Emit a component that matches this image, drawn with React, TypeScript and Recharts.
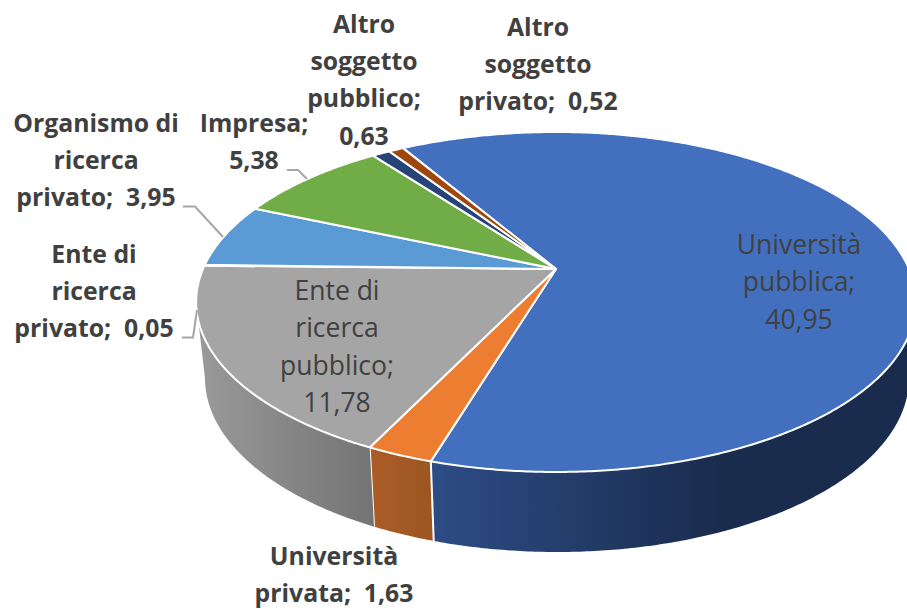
import React from "react";
import { PieChart, Pie } from "recharts";

const categories = ["Università pubblica", "Università privata", "Ente di ricerca pubblico", "Ente di ricerca privato", "Organismo di ricerca privato", "Impresa", "Altro soggetto pubblico", "Altro soggetto privato"];
const values = [40.95, 1.63, 11.78, 0.05, 3.95, 5.38, 0.63, 0.52];
const colors = ["#4270BF", "#ED7D31", "#A5A5A5", "#5B9BD5", "#5B9BD5", "#70AD47", "#264478", "#9E480E"];
const labelLines: string[][] = [
  ["Università", "pubblica;", "40,95"],
  ["Università", "privata;  1,63"],
  ["Ente di", "ricerca", "pubblico;", "11,78"],
  ["Ente di", "ricerca", "privato;  0,05"],
  ["Organismo di", "ricerca", "privato;  3,95"],
  ["Impresa;", "5,38"],
  ["Altro", "soggetto", "pubblico;", "0,63"],
  ["Altro", "soggetto", "privato;  0,52"],
];

const data = categories.map((name, i) => ({ name, value: values[i], fill: colors[i] }));

const labelPos = [
  { x: 799, y: 247, bold: false },
  { x: 334, y: 558, bold: true },
  { x: 337, y: 293, bold: false },
  { x: 94, y: 256, bold: true },
  { x: 96, y: 125, bold: true },
  { x: 254, y: 125, bold: true },
  { x: 364, y: 26, bold: true },
  { x: 538, y: 29, bold: true },
];
const leaders: Record<number, string> = {
  3: "182,337.5 193,337.5 197,310",
  4: "183,206.5 195,206.5 223,237",
  5: "287,170 298,170 307,179",
};
const sideGrad: Record<number, [string, string, number, number]> = {
  0: ["#2D4C85", "#1A2C4E", 432, 720],
  1: ["#AB5C26", "#9C5621", 372, 434],
  2: ["#999999", "#747474", 200, 372],
};

const AX = 556, AY = 269, A = 353, B = 163.6, P = 0.194;
const TOP = { cx: 557, cy: 302, rx: 360, ry: 170 };
const BOT = { cx: 557, cy: 378, rx: 352, ry: 174 };

function project(deg: number) {
  const r = (deg * Math.PI) / 180;
  const X = Math.cos(r), Y = Math.sin(r);
  const d = 1 + P * Y;
  return { x: AX + (A * X) / d, y: AY - (B * Y) / d };
}

function SliceShape(props: any) {
  const { startAngle, endAngle, fill, name } = props;
  const idx = categories.indexOf(name);
  const n = Math.max(2, Math.ceil(Math.abs(endAngle - startAngle) * 2));
  const pts: { x: number; y: number }[] = [];
  for (let i = 0; i <= n; i++) pts.push(project(startAngle + ((endAngle - startAngle) * i) / n));
  const top = `M${AX},${AY} ` + pts.map((p) => `L${p.x.toFixed(2)},${p.y.toFixed(2)}`).join(" ") + " Z";

  const front = pts
    .map((p) => {
      const t = Math.atan2((p.y - TOP.cy) / TOP.ry, (p.x - TOP.cx) / TOP.rx);
      return { p, t };
    })
    .filter((o) => Math.sin(o.t) >= 0);
  let side = null;
  if (front.length > 1) {
    const bottom = front.map((o) => ({ x: BOT.cx + BOT.rx * Math.cos(o.t), y: BOT.cy + BOT.ry * Math.sin(o.t) }));
    const d =
      "M" + front.map((o) => `${o.p.x.toFixed(2)},${o.p.y.toFixed(2)}`).join(" L") +
      " L" + bottom.reverse().map((p) => `${p.x.toFixed(2)},${p.y.toFixed(2)}`).join(" L") + " Z";
    const g = sideGrad[idx];
    const gid = `side${idx}`;
    const firstB = bottom[bottom.length - 1];
    const lastB = bottom[0];
    const firstT = front[0].p;
    const lastT = front[front.length - 1].p;
    side = (
      <g>
        {g && (
          <defs>
            <linearGradient id={gid} gradientUnits="userSpaceOnUse" x1={g[2]} x2={g[3]} y1={0} y2={0}>
              <stop offset="0%" stopColor={g[0]} />
              <stop offset="100%" stopColor={g[1]} />
            </linearGradient>
          </defs>
        )}
        <path d={d} fill={g ? `url(#${gid})` : fill} stroke="none" />
        {idx <= 1 || idx === 2 ? (
          <>
            {idx !== 2 && <line x1={firstT.x} y1={firstT.y} x2={firstB.x} y2={firstB.y} stroke="#fff" strokeWidth={2} />}
            {idx !== 0 && <line x1={lastT.x} y1={lastT.y} x2={lastB.x} y2={lastB.y} stroke="#fff" strokeWidth={idx === 2 ? 0 : 2} />}
          </>
        ) : null}
      </g>
    );
  }
  return (
    <g>
      {side}
      <path d={top} fill={fill} stroke="#fff" strokeWidth={2} strokeLinejoin="round" />
    </g>
  );
}

function renderLabel(props: any) {
  const i = categories.indexOf(props.name);
  const pos = labelPos[i];
  const lh = 37.4;
  return (
    <g key={i}>
      {leaders[i] && <polyline points={leaders[i]} fill="none" stroke="#A6A6A6" strokeWidth={2} />}
      <text
        textAnchor="middle"
        fontFamily="'Open Sans', sans-serif"
        fontSize={pos.bold ? 24.8 : 26.5}
        fontWeight={pos.bold ? 700 : 400}
        fill="#404040"
        style={{ whiteSpace: "pre" }}
      >
        {labelLines[i].map((l, k) => (
          <tspan key={k} x={pos.x} y={pos.y + k * lh} dominantBaseline="middle">
            {l}
          </tspan>
        ))}
      </text>
    </g>
  );
}

export default function App() {
  return (
    <div style={{ position: "absolute", left: 0, top: 0, width: 907, height: 609, background: "#fff", overflow: "hidden" }}>
      <PieChart width={907} height={609} margin={{ top: 0, right: 0, bottom: 0, left: 0 }}>
        <Pie
          data={data}
          dataKey="value"
          nameKey="name"
          cx={AX}
          cy={AY}
          outerRadius={160}
          startAngle={120.4}
          endAngle={-239.6}
          paddingAngle={0}
          stroke="none"
          isAnimationActive={false}
          shape={SliceShape}
          label={renderLabel}
          labelLine={false}
        />
      </PieChart>
    </div>
  );
}
